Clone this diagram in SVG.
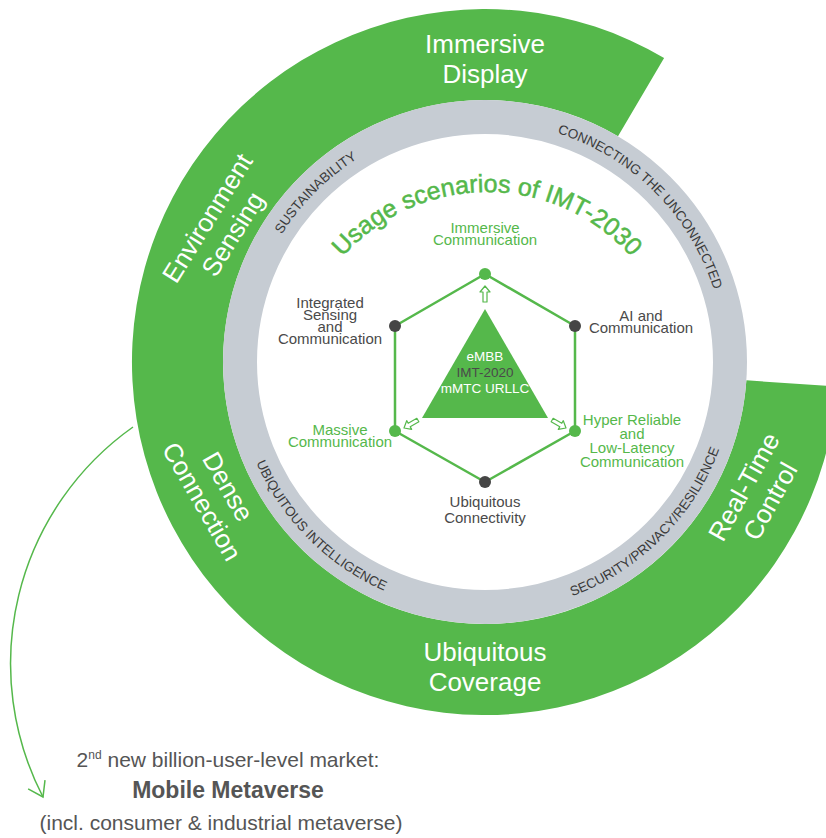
<svg xmlns="http://www.w3.org/2000/svg" width="826" height="838" viewBox="0 0 826 838">
<defs>
<style>
text{font-family:"Liberation Sans",Arial,sans-serif}
.band{font-size:26px;fill:#fff;text-anchor:middle}
.ring{font-size:13.5px;fill:#3a3a3a}
.sm{font-size:15px;text-anchor:middle}
.gt{fill:#55b84b}
.dt{fill:#4a4a4a}
.tri{font-size:13.5px;text-anchor:middle}
.foot{fill:#555555;text-anchor:middle}
</style>
<path id="p-sust" d="M245,362 A240,240 0 0 1 485,122"/>
<path id="p-conn" d="M485,122 A240,240 0 0 1 725,362"/>
<path id="p-ubiq" d="M235,362 A250,250 0 0 0 485,612"/>
<path id="p-secu" d="M485,612 A250,250 0 0 0 735,362"/>
<path id="p-title" d="M294,385 A193,193 0 0 1 680,385"/>
<path id="harrow" d="M0,0 L5,6 L2,6 L2,16 L-2,16 L-2,6 L-5,6 Z" fill="#fff" stroke="#55b84b" stroke-width="1.2" stroke-linejoin="round"/>
<marker id="open" markerUnits="userSpaceOnUse" viewBox="-16 -12 18 24" markerWidth="18" markerHeight="24" refX="0" refY="0" orient="auto">
<path d="M-14,-9.5 L0,0 L-14,9.5" fill="none" stroke="#55b84b" stroke-width="1.5"/>
</marker>
</defs>
<rect width="826" height="838" fill="#ffffff"/>

<g id="outer-band">
<path d="M837.1,386.6 A353,353 0 1 1 664.1,57.9 L618,136.3 A262,262 0 1 0 746.4,380.3 Z" fill="#55b84b"/>
</g>
<g id="gray-ring">
<circle cx="485" cy="362" r="245" fill="#ffffff" stroke="#c6ccd3" stroke-width="34"/>
</g>

<g id="band-immersive-display">
<text class="band"><tspan x="485" y="52.5">Immersive</tspan><tspan x="485" y="82.5">Display</tspan></text>
</g>
<g id="band-environment-sensing" transform="translate(220,226) rotate(-58)">
<text class="band"><tspan x="0" y="-6">Environment</tspan><tspan x="0" y="24">Sensing</tspan></text>
</g>
<g id="band-dense-connection" transform="translate(215,494) rotate(60)">
<text class="band"><tspan x="0" y="-6">Dense</tspan><tspan x="0" y="24">Connection</tspan></text>
</g>
<g id="band-ubiquitous-coverage">
<text class="band"><tspan x="485" y="661">Ubiquitous</tspan><tspan x="485" y="691">Coverage</tspan></text>
</g>
<g id="band-real-time-control" transform="translate(757,494) rotate(-61)">
<text class="band"><tspan x="0" y="-6">Real-Time</tspan><tspan x="0" y="24">Control</tspan></text>
</g>

<g id="ring-sustainability"><text class="ring" text-anchor="middle"><textPath href="#p-sust" startOffset="50%">SUSTAINABILITY</textPath></text></g>
<g id="ring-connecting"><text class="ring" text-anchor="middle"><textPath href="#p-conn" startOffset="50%">CONNECTING THE UNCONNECTED</textPath></text></g>
<g id="ring-intelligence"><text class="ring" text-anchor="middle"><textPath href="#p-ubiq" startOffset="50%">UBIQUITOUS INTELLIGENCE</textPath></text></g>
<g id="ring-security"><text class="ring" text-anchor="middle"><textPath href="#p-secu" startOffset="50%">SECURITY/PRIVACY/RESILIENCE</textPath></text></g>

<g id="title"><text font-size="25" fill="#55b84b" stroke="#55b84b" stroke-width="0.5" text-anchor="middle"><textPath href="#p-title" startOffset="50%">Usage scenarios of IMT-2030</textPath></text></g>

<g id="connectors">
<polygon points="485,274 575,326 575,431 485,482 395,431 395,326" fill="none" stroke="#55b84b" stroke-width="2.5" stroke-linejoin="round"/>
<use href="#harrow" transform="translate(485,286)"/>
<use href="#harrow" transform="translate(404,428) rotate(-120)"/>
<use href="#harrow" transform="translate(566,428) rotate(120)"/>
<path d="M133,427 A290,290 0 0 0 43,797" fill="none" stroke="#55b84b" stroke-width="1.5" marker-end="url(#open)"/>
</g>

<g id="core-triangle">
<polygon points="485,309 422,418 548,418" fill="#55b84b"/>
<text class="tri"><tspan x="485" y="361" fill="#ffffff">eMBB</tspan><tspan x="485" y="377" fill="#4a4a4a">IMT-2020</tspan><tspan x="485" y="393" fill="#ffffff">mMTC URLLC</tspan></text>
</g>

<g id="node-immersive-communication">
<circle cx="485" cy="274" r="6" fill="#55b84b"/>
<text class="sm gt"><tspan x="485" y="233">Immersive</tspan><tspan x="485" y="245">Communication</tspan></text>
</g>
<g id="node-ai-communication">
<circle cx="575" cy="326" r="6" fill="#454545"/>
<text class="sm dt"><tspan x="641" y="321">AI and</tspan><tspan x="641" y="333">Communication</tspan></text>
</g>
<g id="node-hrllc">
<circle cx="575" cy="431" r="6" fill="#55b84b"/>
<text class="sm gt"><tspan x="632" y="425">Hyper Reliable</tspan><tspan x="632" y="439">and</tspan><tspan x="632" y="453">Low-Latency</tspan><tspan x="632" y="467">Communication</tspan></text>
</g>
<g id="node-ubiquitous-connectivity">
<circle cx="485" cy="482" r="6" fill="#454545"/>
<text class="sm dt"><tspan x="485" y="507">Ubiquitous</tspan><tspan x="485" y="523">Connectivity</tspan></text>
</g>
<g id="node-massive-communication">
<circle cx="395" cy="431" r="6" fill="#55b84b"/>
<text class="sm gt"><tspan x="340" y="435">Massive</tspan><tspan x="340" y="447">Communication</tspan></text>
</g>
<g id="node-isac">
<circle cx="395" cy="326" r="6" fill="#454545"/>
<text class="sm dt"><tspan x="330" y="308">Integrated</tspan><tspan x="330" y="320">Sensing</tspan><tspan x="330" y="332">and</tspan><tspan x="330" y="344">Communication</tspan></text>
</g>

<g id="metaverse-label">
<text class="foot" x="228" y="767" font-size="21">2<tspan font-size="12" dy="-8">nd</tspan><tspan dy="8"> new billion-user-level market:</tspan></text>
<text class="foot" x="228" y="798" font-size="23" font-weight="bold">Mobile Metaverse</text>
<text class="foot" x="221" y="830" font-size="21">(incl. consumer &amp; industrial metaverse)</text>
</g>
</svg>
